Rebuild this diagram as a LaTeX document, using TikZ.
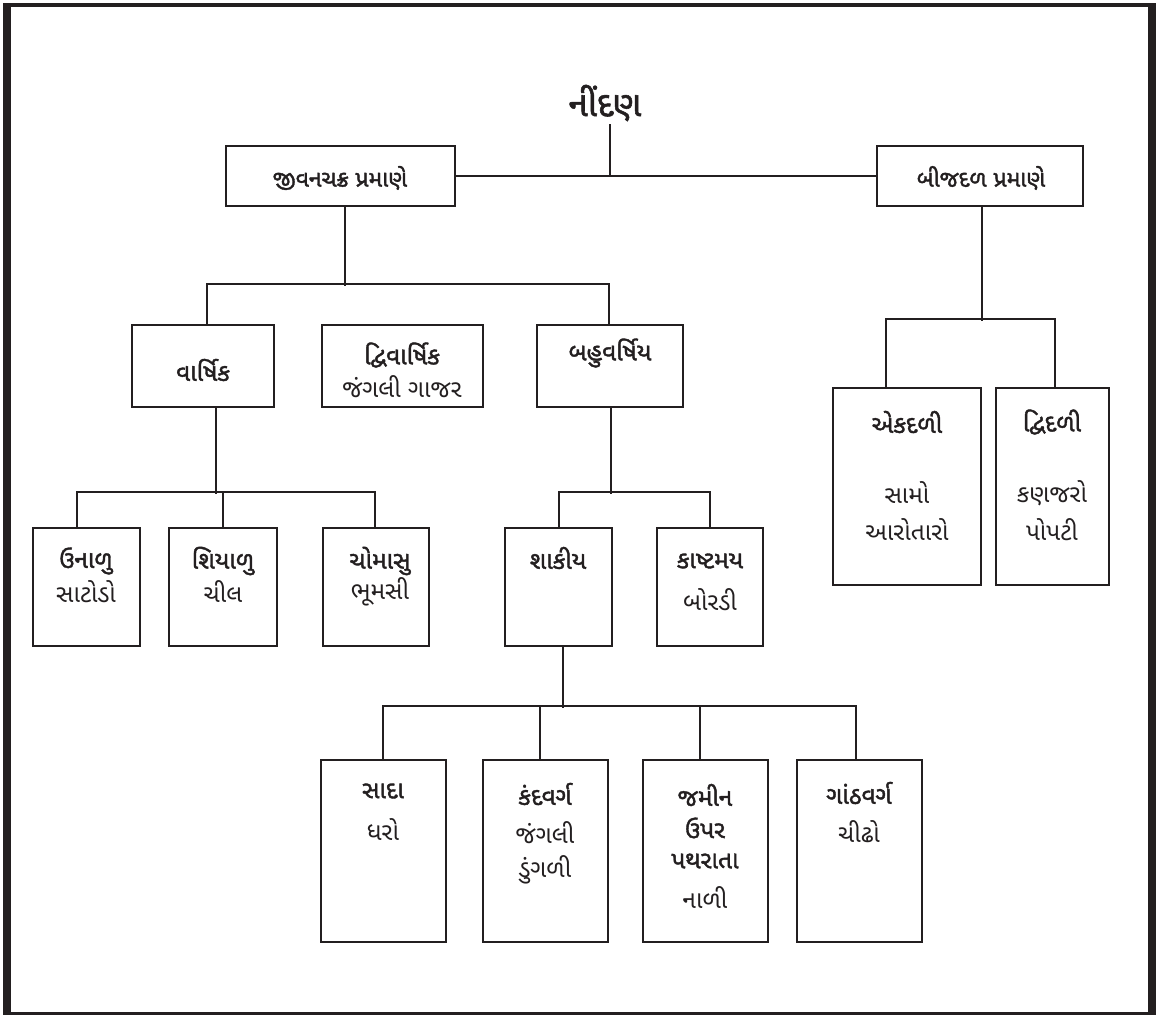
\documentclass[tikz,border=0pt]{standalone}
\usepackage{fontspec}
\newfontfamily\guj[Script=Gujarati]{Noto Sans Gujarati UI}
\newfontfamily\gujb[Script=Gujarati,FakeBold=1.6]{Noto Sans Gujarati UI}
\definecolor{ink}{HTML}{231F20}
\begin{document}
\begin{tikzpicture}[x=1pt,y=-1pt,
  box/.style={draw=ink,line width=2.4pt,inner sep=0pt},
  line/.style={draw=ink,line width=2pt},
  hd/.style={font=\gujb\fontsize{24.5}{30}\selectfont,text=ink,align=center,inner sep=0pt},
  tx/.style={font=\guj\fontsize{24.5}{30}\selectfont,text=ink,align=center,inner sep=0pt},
  roottx/.style={font=\gujb\fontsize{35}{40}\selectfont,text=ink,inner sep=0pt}]
\useasboundingbox (0,0) rectangle (1165,1015);
\fill[white] (0,0) rectangle (1165,1015);
% frame
\fill[ink] (3,3) rectangle (11,1015);
\fill[ink] (1148,3) rectangle (1156,1015);
\fill[ink] (3,3) rectangle (1156,7);
\fill[ink] (3,1012) rectangle (1156,1015);
% boxes
\node[box,minimum width=229pt,minimum height=60pt] (jiv) at (340.5,176) {};
\node[box,minimum width=206pt,minimum height=60pt] (bij) at (980,176) {};
\node[box,minimum width=142pt,minimum height=82pt] (var) at (203,366) {};
\node[box,minimum width=161pt,minimum height=82pt] (dvi) at (402.5,366) {};
\node[box,minimum width=146pt,minimum height=82pt] (bah) at (610,366) {};
\node[box,minimum width=107pt,minimum height=118pt] (una) at (86.5,587) {};
\node[box,minimum width=108pt,minimum height=118pt] (shi) at (223,587) {};
\node[box,minimum width=106pt,minimum height=118pt] (cho) at (376,587) {};
\node[box,minimum width=107pt,minimum height=118pt] (sha) at (558.5,587) {};
\node[box,minimum width=106pt,minimum height=118pt] (kas) at (710,587) {};
\node[box,minimum width=125pt,minimum height=182pt] (sad) at (383.5,851) {};
\node[box,minimum width=125pt,minimum height=182pt] (kan) at (545.5,851) {};
\node[box,minimum width=125pt,minimum height=182pt] (jam) at (705.5,851) {};
\node[box,minimum width=125pt,minimum height=182pt] (gan) at (859.5,851) {};
\node[box,minimum width=148pt,minimum height=197pt] (ekd) at (907,486.5) {};
\node[box,minimum width=113pt,minimum height=197pt] (dvd) at (1052.5,486.5) {};
% texts
\node[roottx] (root) at (605,103) {નીંદણ};
\node[hd,font=\gujb\fontsize{23}{30}\selectfont] (tjiv) at (340,178) {જીવનચક્ર પ્રમાણે};
\node[hd,font=\gujb\fontsize{23}{30}\selectfont] (tbij) at (981,178) {બીજદળ પ્રમાણે};
\node[hd] (tvar) at (203,370) {વાર્ષિક};
\node[hd] (tdvi) at (402,355) {દ્વિવાર્ષિક};
\node[tx] (tdvi2) at (402,387) {જંગલી ગાજર};
\node[hd] (tbah) at (610,353) {બહુવર્ષિય};
\node[hd] (tuna) at (86,561) {ઉનાળુ};
\node[tx] (tuna2) at (86,592) {સાટોડો};
\node[hd] (tshi) at (223,561) {શિયાળુ};
\node[tx] (tshi2) at (223,592) {ચીલ};
\node[hd] (tcho) at (380,561) {ચોમાસુ};
\node[tx] (tcho2) at (380,592) {ભૂમસી};
\node[hd] (tsha) at (558,558) {શાકીય};
\node[hd] (tkas) at (710,561) {કાષ્ટમય};
\node[tx] (tkas2) at (710,600) {બોરડી};
\node[hd] (tsad) at (383,791) {સાદા};
\node[tx] (tsad2) at (383,830) {ધરો};
\node[hd] (tkan) at (545,794) {કંદવર્ગ};
\node[tx] (tkan2) at (545,833) {જંગલી};
\node[tx] (tkan3) at (545,870) {ડુંગળી};
\node[hd] (tjam) at (705,795) {જમીન};
\node[hd] (tjam2) at (705,828) {ઉપર};
\node[hd] (tjam3) at (705,861) {પથરાતા};
\node[tx] (tjam4) at (705,898) {નાળી};
\node[hd] (tgan) at (859,793) {ગાંઠવર્ગ};
\node[tx] (tgan2) at (859,832) {ચીઢો};
\node[hd] (tekd) at (907,422) {એકદળી};
\node[tx] (tekd2) at (907,493) {સામો};
\node[tx] (tekd3) at (907,530) {આરોતારો};
\node[hd] (tdvd) at (1052,422) {દ્વિદળી};
\node[tx] (tdvd2) at (1052,493) {કણજરો};
\node[tx] (tdvd3) at (1052,530) {પોપટી};
% connectors
\coordinate (rj) at (610,176);
\draw[line] (rj |- root.south) ++(0,3) -- (rj);
\draw[line] (jiv.east) -- (bij.west);
\draw[line] ([xshift=4.5pt]jiv.south) -- ++(0,79);
\draw[line] ([xshift=4pt]var.north) -- ++(0,-40) -| ([xshift=-1pt]bah.north);
\draw[line] ([xshift=13pt]var.south) -- ++(0,86);
\draw[line] ([xshift=-9.5pt]una.north) -- ++(0,-35) -| ([xshift=-1pt]cho.north);
\draw[line] (shi.north) -- ++(0,-35);
\draw[line] ([xshift=1pt]bah.south) -- ++(0,86);
\draw[line] (sha.north) -- ++(0,-35) -| (kas.north);
\draw[line] ([xshift=4.5pt]sha.south) -- ++(0,61);
\draw[line] ([xshift=-0.5pt]sad.north) -- ++(0,-53) -| ([xshift=-3.5pt]gan.north);
\draw[line] ([xshift=-5.5pt]kan.north) -- ++(0,-53);
\draw[line] ([xshift=-5.5pt]jam.north) -- ++(0,-53);
\draw[line] ([xshift=2pt]bij.south) -- ++(0,114);
\draw[line] ([xshift=-21pt]ekd.north) -- ++(0,-68) -| ([xshift=2.5pt]dvd.north);
\end{tikzpicture}
\end{document}
